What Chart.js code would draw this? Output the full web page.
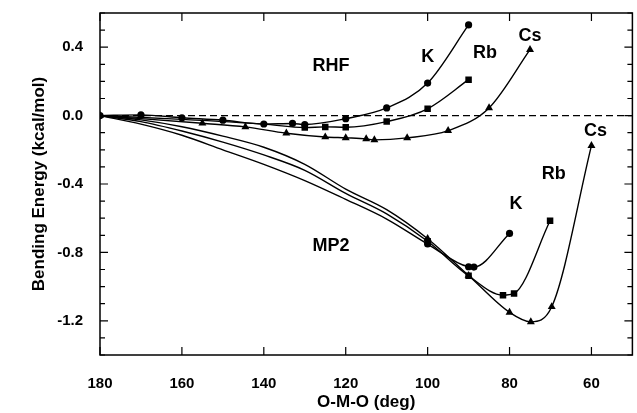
<!DOCTYPE html>
<html>
<head>
<meta charset="utf-8">
<script src="https://cdn.jsdelivr.net/npm/chart.js@4.4.1/dist/chart.umd.min.js"></script>
<style>
  body { margin: 0; background: #fff; }
  #wrap { width: 637px; height: 413px; }
</style>
</head>
<body>
<div id="wrap"><canvas id="bendChart" width="637" height="413"></canvas></div>
<script>
// RHF curves (O-M-O angle in deg, energy in kcal/mol)
const rhfKAngle = [180, 170, 160, 150, 140, 133, 130, 120, 110, 100, 90];
const rhfKEnergy = [0, 0.004, -0.013, -0.027, -0.049, -0.046, -0.052, -0.018, 0.045, 0.19, 0.53];
const rhfRbAngle = [180, 160, 140, 130, 125, 120, 110, 100, 90];
const rhfRbEnergy = [0, -0.022, -0.05, -0.07, -0.066, -0.068, -0.035, 0.04, 0.21];
const rhfCsAngle = [180, 155, 144.5, 134.5, 125, 120, 115, 113, 105, 95, 85, 75];
const rhfCsEnergy = [0, -0.045, -0.066, -0.103, -0.125, -0.13, -0.136, -0.142, -0.13, -0.088, 0.045, 0.386];

// MP2 curves
const mp2KAngle = [180, 170, 160, 150, 140, 130, 120, 110, 100, 90, 88.7, 80];
const mp2KEnergy = [0, -0.05, -0.115, -0.2, -0.285, -0.38, -0.49, -0.605, -0.751, -0.884, -0.886, -0.689];
const mp2RbAngle = [180, 170, 160, 150, 140, 130, 120, 110, 100, 90, 81.6, 78.9, 70.1];
const mp2RbEnergy = [0, -0.035, -0.09, -0.155, -0.23, -0.32, -0.455, -0.575, -0.735, -0.937, -1.05, -1.04, -0.615];
const mp2CsAngle = [180, 170, 160, 150, 140, 130, 120, 110, 100, 90, 80, 74.8, 69.7, 60];
const mp2CsEnergy = [0, -0.025, -0.065, -0.12, -0.185, -0.285, -0.43, -0.55, -0.72, -0.935, -1.151, -1.206, -1.118, -0.176];

const zeroAngle = [180, 50];
const zeroEnergy = [0, 0];

// curve labels, placed in data coordinates
const curveLabels = ['RHF', 'K', 'Rb', 'Cs', 'MP2', 'K', 'Rb', 'Cs'];
const curveLabelAngle = [123.6, 100, 86, 75, 123.6, 78.4, 69.2, 59];
const curveLabelEnergy = [0.29, 0.344, 0.367, 0.467, -0.763, -0.517, -0.341, -0.09];

const FONT = '"Liberation Sans", Arial, Helvetica, sans-serif';

function toPoints(xs, ys) {
    return xs.map((x, i) => ({ x: x, y: ys[i] }));
}

function curve(label, xs, ys, style, radius, markFrom) {
    return {
        label: label,
        data: toPoints(xs, ys),
        showLine: true,
        borderColor: '#000',
        backgroundColor: '#000',
        borderWidth: 1.4,
        cubicInterpolationMode: 'monotone',
        pointStyle: style,
        pointRadius: ctx => (ctx.raw && ctx.raw.x <= markFrom ? radius : 0),
        pointHoverRadius: 0,
        pointBorderWidth: 0
    };
}

// inward ticks and frame, like the printed figure
const frameTicks = {
    id: 'frameTicks',
    afterDraw(chart) {
        const { ctx, chartArea: a, scales } = chart;
        ctx.save();
        ctx.strokeStyle = '#000';
        ctx.lineWidth = 1.5;
        ctx.strokeRect(a.left, a.top, a.right - a.left, a.bottom - a.top);
        ctx.lineWidth = 1.2;
        ctx.beginPath();
        for (let v = 60; v <= 180; v += 20) {
            const px = scales.x.getPixelForValue(v);
            ctx.moveTo(px, a.bottom); ctx.lineTo(px, a.bottom - 8);
            ctx.moveTo(px, a.top); ctx.lineTo(px, a.top + 8);
        }
        for (let k = -14; k <= 6; k++) {
            const py = scales.y.getPixelForValue(k / 10);
            const len = k % 4 === 0 ? 8 : 5;
            ctx.moveTo(a.left, py); ctx.lineTo(a.left + len, py);
            ctx.moveTo(a.right, py); ctx.lineTo(a.right - len, py);
        }
        ctx.stroke();

        ctx.fillStyle = '#000';
        ctx.font = 'bold 18px ' + FONT;
        ctx.textAlign = 'center';
        ctx.textBaseline = 'middle';
        curveLabels.forEach((t, i) => {
            ctx.fillText(t, scales.x.getPixelForValue(curveLabelAngle[i]),
                scales.y.getPixelForValue(curveLabelEnergy[i]));
        });
        ctx.restore();
    }
};

new Chart(document.getElementById('bendChart'), {
    type: 'scatter',
    data: {
        datasets: [
            {
                label: 'zero',
                data: toPoints(zeroAngle, zeroEnergy),
                showLine: true,
                borderColor: '#000',
                borderWidth: 1.4,
                borderDash: [7, 4],
                pointRadius: 0
            },
            curve('RHF K', rhfKAngle, rhfKEnergy, 'circle', 3.6, 180),
            curve('RHF Rb', rhfRbAngle, rhfRbEnergy, 'rect', 4.6, 130),
            curve('RHF Cs', rhfCsAngle, rhfCsEnergy, 'triangle', 4.6, 180),
            curve('MP2 K', mp2KAngle, mp2KEnergy, 'circle', 3.6, 100),
            curve('MP2 Rb', mp2RbAngle, mp2RbEnergy, 'rect', 4.6, 100),
            curve('MP2 Cs', mp2CsAngle, mp2CsEnergy, 'triangle', 4.6, 100)
        ]
    },
    options: {
        responsive: false,
        animation: false,
        events: [],
        layout: { padding: { top: 13, right: 1, left: 0, bottom: 0 } },
        plugins: {
            legend: { display: false },
            tooltip: { enabled: false }
        },
        scales: {
            x: {
                type: 'linear',
                reverse: true,
                min: 50,
                max: 180,
                afterFit: s => { s.height = 58; s.paddingLeft = 0; s.paddingRight = 0; },
                grid: { display: false, drawTicks: false },
                border: { display: false },
                ticks: {
                    stepSize: 10,
                    autoSkip: false,
                    maxRotation: 0,
                    padding: 20,
                    color: '#000',
                    font: { family: FONT, size: 15, weight: 'bold' },
                    callback: v => (v % 20 === 0 ? String(v) : '')
                },
                title: {
                    display: true,
                    text: 'O-M-O (deg)',
                    color: '#000',
                    padding: 0,
                    font: { family: FONT, size: 17, weight: 'bold' }
                }
            },
            y: {
                min: -1.4,
                max: 0.6,
                afterFit: s => { s.width = 100; s.paddingTop = 0; s.paddingBottom = 0; },
                grid: { display: false, drawTicks: false },
                border: { display: false },
                ticks: {
                    stepSize: 0.1,
                    autoSkip: false,
                    padding: 17,
                    color: '#000',
                    font: { family: FONT, size: 15, weight: 'bold' },
                    callback: v => {
                        const k = Math.round(v * 10);
                        return k % 4 === 0 ? (k / 10).toFixed(1) : '';
                    }
                },
                title: {
                    display: true,
                    text: 'Bending Energy (kcal/mol)',
                    color: '#000',
                    padding: { top: 29 },
                    font: { family: FONT, size: 17, weight: 'bold' }
                }
            }
        }
    },
    plugins: [frameTicks]
});
</script>
</body>
</html>
